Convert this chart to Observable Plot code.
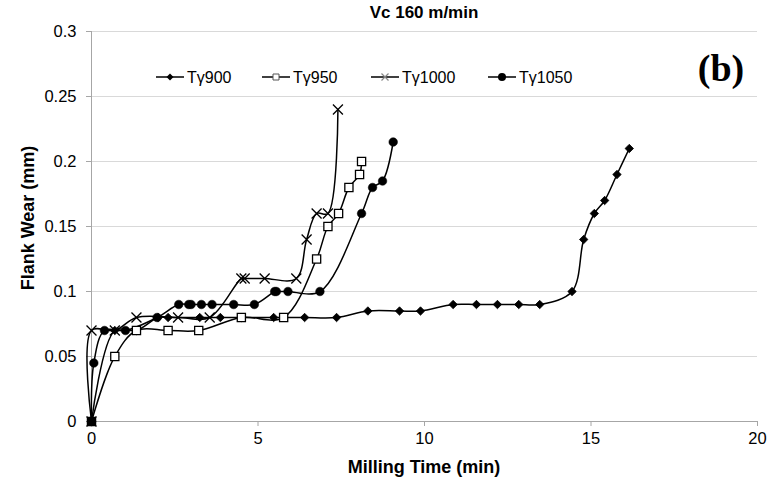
<!DOCTYPE html>
<html>
<head>
<meta charset="utf-8">
<script src="https://cdn.jsdelivr.net/npm/d3@7"></script>
<script src="https://cdn.jsdelivr.net/npm/@observablehq/plot@0.6"></script>
<style>
  html, body { margin: 0; padding: 0; background: #fff; }
  #wrap { position: relative; width: 778px; height: 487px; font-family: "Liberation Sans", Arial, sans-serif; }
  #wrap svg { display: block; }
  .ov { position: absolute; white-space: nowrap; color: #000; }
</style>
</head>
<body>
<div id="wrap"></div>
<script>
// ---- data ----
const seriesNames = ["Tγ900", "Tγ950", "Tγ1000", "Tγ1050"];

const t900 = [0, 0.7, 1.35, 2.0, 2.3, 3.25, 3.87, 4.5, 5.47, 6.4, 7.36, 8.3, 9.25, 9.88, 10.86, 11.56, 12.19, 12.83, 13.46, 14.43, 14.78, 15.1, 15.41, 15.78, 16.15];
const w900 = [0, 0.07, 0.07, 0.08, 0.08, 0.08, 0.08, 0.08, 0.08, 0.08, 0.08, 0.085, 0.085, 0.085, 0.09, 0.09, 0.09, 0.09, 0.09, 0.1, 0.14, 0.16, 0.17, 0.19, 0.21];

const t950 = [0, 0.7, 1.35, 2.3, 3.22, 4.5, 5.77, 6.76, 7.1, 7.42, 7.73, 8.05, 8.11];
const w950 = [0, 0.05, 0.07, 0.07, 0.07, 0.08, 0.08, 0.125, 0.15, 0.16, 0.18, 0.19, 0.2];

const t1000 = [0, 0, 0.7, 1.35, 2.6, 3.55, 4.5, 4.6, 5.2, 6.15, 6.46, 6.76, 7.1, 7.4];
const w1000 = [0, 0.07, 0.07, 0.08, 0.08, 0.08, 0.11, 0.11, 0.11, 0.11, 0.14, 0.16, 0.16, 0.24];

const t1050 = [0, 0.07, 0.39, 1.02, 1.97, 2.62, 2.92, 2.99, 3.3, 3.62, 4.27, 4.89, 5.5, 5.55, 5.9, 6.86, 8.11, 8.44, 8.74, 9.06];
const w1050 = [0, 0.045, 0.07, 0.07, 0.08, 0.09, 0.09, 0.09, 0.09, 0.09, 0.09, 0.09, 0.1, 0.1, 0.1, 0.1, 0.16, 0.18, 0.185, 0.215];

const xTicks = [0, 5, 10, 15, 20];
const yTicks = [0, 0.05, 0.1, 0.15, 0.2, 0.25, 0.3];
const yTickLabels = ["0", "0.05", "0.1", "0.15", "0.2", "0.25", "0.3"];

const titleText = "Vc 160 m/min";
const xTitle = "Milling Time (min)";
const yTitle = "Flank Wear (mm)";
const panelTag = "(b)";

// ---- build table ----
const pairs = [[t900, w900], [t950, w950], [t1000, w1000], [t1050, w1050]];
const rows = [];
pairs.forEach(([ts, ws], i) => ts.forEach((t, j) => rows.push({series: seriesNames[i], t, w: ws[j]})));
const of = name => rows.filter(d => d.series === name);

const font = "Liberation Sans, Arial, sans-serif";
const lineStyle = {x: "t", y: "w", stroke: "#000", strokeWidth: 1.5, curve: "catmull-rom"};

const chart = Plot.plot({
  width: 778,
  height: 487,
  marginLeft: 91,
  marginRight: 21,
  marginTop: 31,
  marginBottom: 66,
  style: {fontFamily: font, background: "#fff"},
  x: {domain: [0, 20]},
  y: {domain: [0, 0.3]},
  marks: [
    Plot.gridY(yTicks.slice(1), {stroke: "#d9d9d9", strokeOpacity: 1, strokeWidth: 1.2}),
    Plot.axisY(yTicks, {
      tickSize: 5, tickPadding: 10, stroke: "#a6a6a6",
      tickFormat: (d) => yTickLabels[yTicks.indexOf(d)],
      fontSize: 16.5, fill: "#000", label: null
    }),
    Plot.axisX(xTicks, {
      tickSize: 5, tickPadding: 6, stroke: "#a6a6a6",
      fontSize: 16.5, fill: "#000", label: null
    }),
    Plot.ruleX([0], {stroke: "#a6a6a6", strokeWidth: 1}),
    Plot.ruleY([0], {stroke: "#a6a6a6", strokeWidth: 1}),
    Plot.line(of("Tγ900"), lineStyle),
    Plot.line(of("Tγ950"), lineStyle),
    Plot.line(of("Tγ1000"), lineStyle),
    Plot.line(of("Tγ1050"), lineStyle),
    Plot.dot(of("Tγ900"), {x: "t", y: "w", symbol: "diamond2", r: 3.8, fill: "#000", stroke: "#000", strokeWidth: 0.8}),
    Plot.dot(of("Tγ950"), {x: "t", y: "w", symbol: "square2", r: 5.2, fill: "#fff", stroke: "#000", strokeWidth: 1.3}),
    Plot.dot(of("Tγ1000"), {x: "t", y: "w", symbol: "times", r: 4.6, stroke: "#000", strokeWidth: 1.3}),
    Plot.dot(of("Tγ1050"), {x: "t", y: "w", symbol: "circle", r: 4.3, fill: "#000", stroke: "#000", strokeWidth: 0.5})
  ]
});

const wrap = document.getElementById("wrap");
wrap.appendChild(chart);

function addText(txt, css) {
  const d = document.createElement("div");
  d.className = "ov";
  d.textContent = txt;
  Object.assign(d.style, css);
  wrap.appendChild(d);
  return d;
}
addText(titleText, {left: "424px", top: "13px", fontWeight: "bold", fontSize: "17px", transform: "translate(-50%,-50%)"});
addText(xTitle, {left: "424px", top: "467px", fontWeight: "bold", fontSize: "18px", transform: "translate(-50%,-50%)"});
addText(yTitle, {left: "28px", top: "218px", fontWeight: "bold", fontSize: "18px", transform: "translate(-50%,-50%) rotate(-90deg)"});
addText(panelTag, {left: "721px", top: "68px", fontWeight: "bold", fontSize: "38px", fontFamily: "Liberation Serif, Times New Roman, serif", transform: "translate(-50%,-50%)"});

// legend
const legendX = [156, 262, 371, 488];
const legendSym = ["diamond", "square", "times", "circle"];
const NS = "http://www.w3.org/2000/svg";
const lg = document.createElementNS(NS, "svg");
lg.setAttribute("width", "778");
lg.setAttribute("height", "30");
Object.assign(lg.style, {position: "absolute", left: "0px", top: "62px"});
const cy = 15;
seriesNames.forEach((name, i) => {
  const x0 = legendX[i], x1 = x0 + 28, xm = x0 + 14;
  const ln = document.createElementNS(NS, "line");
  ln.setAttribute("x1", x0); ln.setAttribute("x2", x1);
  ln.setAttribute("y1", cy); ln.setAttribute("y2", cy);
  ln.setAttribute("stroke", "#000"); ln.setAttribute("stroke-width", "1.5");
  lg.appendChild(ln);
  const p = document.createElementNS(NS, "path");
  const s = legendSym[i];
  if (s === "diamond") { p.setAttribute("d", `M${xm},${cy-3.5}L${xm+3.5},${cy}L${xm},${cy+3.5}L${xm-3.5},${cy}Z`); p.setAttribute("fill", "#000"); }
  if (s === "square") { p.setAttribute("d", `M${xm-3},${cy-3}h6v6h-6Z`); p.setAttribute("fill", "#fff"); p.setAttribute("stroke", "#555"); p.setAttribute("stroke-width", "1"); }
  if (s === "times") { p.setAttribute("d", `M${xm-3.5},${cy-3.5}L${xm+3.5},${cy+3.5}M${xm-3.5},${cy+3.5}L${xm+3.5},${cy-3.5}`); p.setAttribute("stroke", "#888"); p.setAttribute("stroke-width", "1.2"); p.setAttribute("fill", "none"); }
  if (s === "circle") { p.setAttribute("d", `M${xm+4},${cy}A4,4 0 1 1 ${xm-4},${cy}A4,4 0 1 1 ${xm+4},${cy}Z`); p.setAttribute("fill", "#000"); }
  lg.appendChild(p);
  const tx = document.createElementNS(NS, "text");
  tx.setAttribute("x", x1 + 3); tx.setAttribute("y", cy + 5.5);
  tx.setAttribute("font-size", "16"); tx.setAttribute("font-family", font);
  tx.textContent = name;
  lg.appendChild(tx);
});
wrap.appendChild(lg);
</script>
</body>
</html>
